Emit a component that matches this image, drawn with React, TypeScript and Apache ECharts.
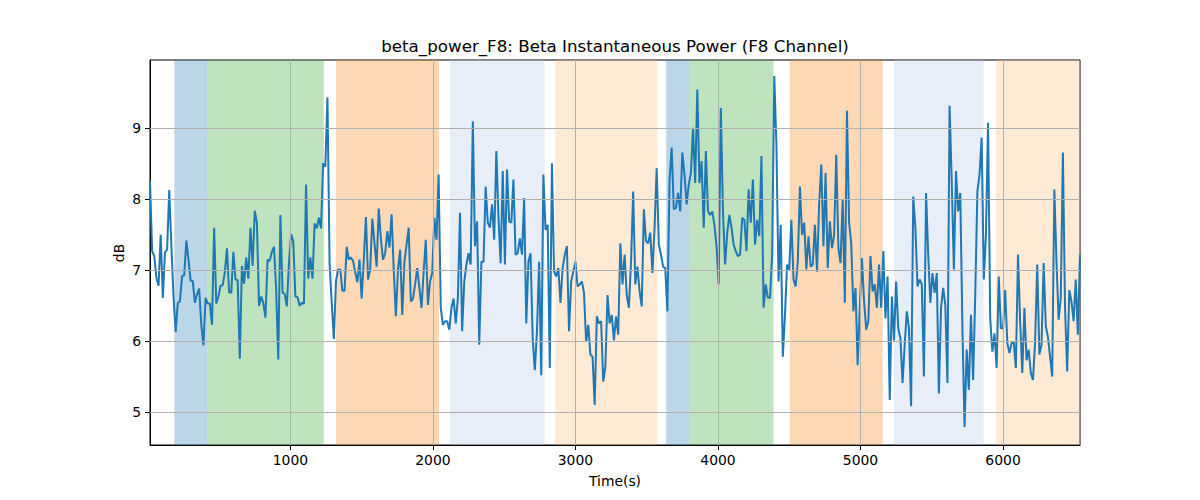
import React, { useEffect, useRef } from "react";
import * as echarts from "echarts";

// Sampling of the recording (seconds)
const T0 = 15;
const DT = 15;

// beta power (dB), left to right
const powerA = [
  8.26, 7.27, 7.2, 6.89, 6.78, 7.5, 6.61, 7.25, 7.29, 8.13,
  7.34, 6.63, 6.13, 6.54, 6.56, 6.92, 6.93, 7.42, 7.15, 6.85,
  6.85, 6.54, 6.66, 6.74, 6.23, 5.94, 6.61, 6.53, 6.53, 6.23,
  7.6, 6.53, 6.63, 6.78, 6.79, 6.97, 7.31, 6.69, 6.68, 7.26,
  6.87, 6.86, 5.75, 7.06, 6.81, 7.18, 6.88, 7.6, 7.06, 7.84,
  7.67, 6.5, 6.63, 6.54, 6.33, 7.15, 7.13, 7.26, 7.33, 6.73,
  5.74, 7.78, 6.68, 6.67, 6.49, 7.1, 7.51, 7.41, 6.63, 6.62,
  6.5, 6.54, 6.53, 8.21, 6.88, 7.18, 6.88, 7.66, 7.59, 7.74,
  7.59, 8.51, 8.46, 9.44, 7.1, 6.54, 6.03, 6.85, 7.01, 7.01,
  6.71, 6.71, 7.33, 7.15, 7.18, 7.13, 6.97, 6.83, 7.15, 6.6,
  7.15, 7.75, 6.87, 7.01, 7.73, 7.39, 7.05, 7.87, 7.44, 7.15,
  7.24, 7.55, 7.32, 7.79, 7.01, 6.35, 7.01, 7.29,
];
const powerB = [
  6.37, 7.12, 7.36, 7.6, 6.56, 6.6, 6.8, 7.03, 6.75, 6.47,
  6.98, 7.43, 6.51, 6.84, 6.96, 7.74, 7.43, 8.35, 6.47, 6.23,
  6.28, 6.28, 6.16, 6.47, 6.6, 6.25, 6.6, 7.81, 6.14, 6.84,
  7.08, 7.24, 7.08, 9.1, 7.34, 7.69, 5.95, 7.12, 7.12, 8.18,
  7.67, 7.6,
];
const powerC = [
  7.93, 7.43, 8.68, 7.74, 7.1, 8.4, 7.08, 8.42, 7.69, 7.67,
  8.28, 7.22, 7.24, 7.45, 7.22, 8.02, 6.25, 7.12, 7.24, 6.04,
  5.59, 6.14, 7.12, 5.52, 8.35, 7.57, 7.64, 5.62, 8.51, 6.98,
  6.91, 7.03, 6.54, 7.03, 7.22, 7.34, 6.14, 6.84, 6.98, 7.12,
];
const powerD = [
  6.77, 6.8, 6.84, 6.68, 5.99, 6.23, 5.81, 5.78, 5.1, 6.35,
  6.25, 6.28, 5.43, 5.64, 6.65, 6.25, 6.37, 6.01, 6.35, 6.09,
  7.38, 6.8, 7.22, 6.65, 6.47, 7.12, 8.11, 6.8, 7.05, 6.7,
  6.49, 7.86, 7.41, 7.38, 7.53, 6.96, 7.6, 8.44, 7.36,
];
const powerE = [
  7.22, 7.05, 7.03, 6.42, 8.26, 8.73, 7.86, 7.88, 8.09, 7.83,
  8.66, 8.35, 7.93, 8.21, 8.37, 9.01, 8.23, 9.55, 8.23, 8.54,
  7.6, 8.68, 7.83, 7.78, 7.83, 7.64, 7.34, 6.8, 9.29, 7.83,
  7.08, 7.53, 7.78, 7.6, 7.36, 7.27, 7.2, 7.22, 7.74, 7.71,
];
const powerF = [
  7.27, 8.14, 7.67, 8.28, 7.36, 7.71, 7.48, 8.61, 6.47, 6.8,
  6.61, 6.61, 7.22, 9.74, 8.77, 6.84, 7.64, 5.78, 6.37, 7.08,
  7.01, 7.71, 6.87, 6.77, 7.12, 8.18, 7.5, 7.67, 7.01, 7.48,
  7.05, 7.08, 7.64, 6.98, 7.95, 8.49, 7.34, 8.37, 7.03, 7.69,
];
const powerG = [
  7.31, 7.5, 8.63, 7.31, 7.1, 8.0, 6.54, 9.25, 7.67, 7.38,
  6.42, 6.75, 5.66, 6.47, 7.17, 6.56, 6.16, 6.28, 7.2, 6.7,
  6.8, 6.47, 7.08, 6.47, 7.27, 6.32, 6.91, 5.17, 6.63, 6.01,
  6.84, 6.18, 6.04, 5.41, 5.95, 6.42, 6.18, 5.08, 8.04, 7.6,
];
const powerH = [
  6.77, 6.87, 6.8, 5.5, 8.09, 7.22, 6.54, 6.96, 6.68, 6.96,
  5.26, 6.47, 6.75, 6.51, 5.41, 9.32, 8.26, 7.01, 8.4, 7.83,
  8.09, 6.18, 4.79, 5.88, 5.31, 6.37, 5.45, 6.65, 8.11, 8.35,
  8.87, 6.87, 7.5, 9.08, 6.32, 5.85, 6.11, 5.62, 6.91,
];
const powerI = [
  6.18, 6.18, 6.72, 5.97, 5.83, 5.97, 5.99, 5.62, 7.22, 6.28,
  5.55, 6.47, 5.73, 5.88, 5.55, 5.45, 5.99, 7.08, 5.81, 5.95,
  7.1, 6.21, 6.06, 5.78, 5.5, 8.14, 7.12, 6.3, 6.61, 8.66,
  6.47, 5.57, 6.72, 6.56, 6.28, 6.87, 6.09, 7.22,
];

// Shaded stage spans (seconds)
const spanStart = [186, 418, 1320, 2120, 2858, 3637, 3798, 4504, 5234, 5949];
const spanEnd = [418, 1234, 2043, 2784, 3574, 3798, 4390, 5156, 5863, 6540];
const spanKind = ["a", "b", "c", "d", "e", "a", "b", "c", "d", "e"];

// Tick labels
const xTicks = [1000, 2000, 3000, 4000, 5000, 6000];
const yTicks = [5, 6, 7, 8, 9];

const kindColor: Record<string, string> = {
  a: "rgba(31,119,180,0.3)",
  b: "rgba(44,160,44,0.3)",
  c: "rgba(255,127,14,0.3)",
  d: "rgba(174,199,232,0.3)",
  e: "rgba(255,187,120,0.3)",
};

const FONT = "DejaVu Sans, sans-serif";

export default function App() {
  const ref = useRef<HTMLDivElement>(null);
  useEffect(() => {
    if (!ref.current) return;
    const chart = echarts.init(ref.current, null, { renderer: "svg" });
    const values = [
      ...powerA, ...powerB, ...powerC, ...powerD, ...powerE,
      ...powerF, ...powerG, ...powerH, ...powerI,
    ];
    const data = values.map((v, i) => [T0 + DT * i, v]);
    const xMin = T0;
    const xMax = T0 + DT * (values.length - 1);

    const areas = spanStart.map((s, i) => [
      { xAxis: s, itemStyle: { color: kindColor[spanKind[i]] } },
      { xAxis: spanEnd[i] },
    ]);
    const gridLines = [
      ...xTicks.map((x) => ({ xAxis: x })),
      ...yTicks.map((y) => ({ yAxis: y })),
    ];

    chart.setOption({
      animation: false,
      grid: {
        left: 150,
        right: 120,
        top: 60,
        bottom: 55,
        show: true,
        borderColor: "#000",
        borderWidth: 1,
        backgroundColor: "transparent",
      },
      xAxis: {
        type: "value",
        min: xMin,
        max: xMax,
        axisLine: { show: true, lineStyle: { color: "#000", width: 1 } },
        axisTick: {
          show: true,
          length: 5,
          customValues: xTicks,
          lineStyle: { color: "#000" },
        },
        axisLabel: {
          customValues: xTicks,
          formatter: (v: number) => String(v),
          color: "#000",
          fontFamily: FONT,
          fontSize: 13.9,
          margin: 8,
        },
        splitLine: { show: false },
      },
      yAxis: {
        type: "value",
        min: 4.534,
        max: 9.966,
        axisLine: { show: true, lineStyle: { color: "#000", width: 1 } },
        axisTick: {
          show: true,
          length: 5,
          customValues: yTicks,
          lineStyle: { color: "#000" },
        },
        axisLabel: {
          customValues: yTicks,
          formatter: (v: number) => String(v),
          color: "#000",
          fontFamily: FONT,
          fontSize: 13.9,
          margin: 9,
        },
        splitLine: { show: false },
      },
      graphic: [
        {
          type: "text",
          x: 615,
          y: 46,
          style: {
            text: "beta_power_F8: Beta Instantaneous Power (F8 Channel)",
            font: `16.7px ${FONT}`,
            fill: "#000",
            textAlign: "center",
            textVerticalAlign: "middle",
          },
        },
        {
          type: "text",
          x: 615,
          y: 481,
          style: {
            text: "Time(s)",
            font: `13.9px ${FONT}`,
            fill: "#000",
            textAlign: "center",
            textVerticalAlign: "middle",
          },
        },
        {
          type: "text",
          x: 119,
          y: 253,
          rotation: Math.PI / 2,
          style: {
            text: "dB",
            font: `13.9px ${FONT}`,
            fill: "#000",
            textAlign: "center",
            textVerticalAlign: "middle",
          },
        },
      ],
      series: [
        {
          type: "line",
          data: [],
          z: 1,
          silent: true,
          markArea: { silent: true, data: areas },
        },
        {
          type: "line",
          data: [],
          z: 2,
          silent: true,
          markLine: {
            silent: true,
            symbol: ["none", "none"],
            label: { show: false },
            lineStyle: { color: "#b0b0b0", width: 1, type: "solid" },
            data: gridLines,
          },
        },
        {
          type: "line",
          data,
          z: 3,
          showSymbol: false,
          lineStyle: { color: "#1f77b4", width: 2 },
          itemStyle: { color: "#1f77b4" },
        },
      ],
    });
    return () => chart.dispose();
  }, []);
  return (
    <div
      ref={ref}
      style={{ position: "absolute", left: 0, top: 0, width: 1200, height: 500 }}
    />
  );
}
